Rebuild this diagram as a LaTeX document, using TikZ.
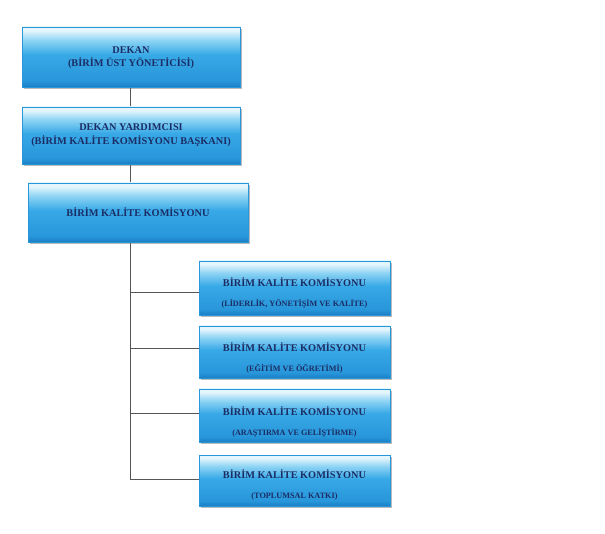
\documentclass[tikz,border=0pt]{standalone}
\usepackage{fontspec}
\setmainfont{Liberation Serif}
\usetikzlibrary{shadows}
\definecolor{bbot}{HTML}{1A7EC4}
\definecolor{bmid2}{HTML}{2896DA}
\definecolor{bmid}{HTML}{38A9E7}
\definecolor{blight}{HTML}{8ED4F4}
\definecolor{btop}{HTML}{E4F5FC}
\definecolor{txtc}{HTML}{1B2D64}
\definecolor{linec}{HTML}{555555}
\newcommand\subsmallfont{\fontsize{8.2}{9}\selectfont}
\pgfdeclareverticalshading{gloss}{100bp}{color(0bp)=(bbot); color(25bp)=(bbot); color(30bp)=(bmid2); color(52bp)=(bmid); color(64bp)=(blight); color(72bp)=(btop); color(75bp)=(btop); color(100bp)=(btop)}
\tikzset{
  box/.style={rectangle, shading=gloss, draw=bmid2, line width=0.4pt,
    drop shadow={shadow xshift=1.5pt, shadow yshift=-2pt, opacity=0.45, fill=black!60},
    inner sep=0pt},
  ttl/.style={text=txtc, font=\bfseries\fontsize{10.3}{13.5}\selectfont, align=center},
  sub/.style={text=txtc, font=\bfseries\fontsize{10.3}{20}\selectfont, align=center},
  conn/.style={draw=linec, line width=0.8pt}
}
\begin{document}
\begin{tikzpicture}[x=1pt,y=-1pt]
\useasboundingbox (0,0) rectangle (605,534);
% connector junctions
\coordinate (j4) at (130,292);
\coordinate (j5) at (130,348);
\coordinate (j6) at (130,413);
\coordinate (j7) at (130,479);
\coordinate (top) at (130,87);
% connectors
\draw[conn] (top) -- (j7);
\coordinate (b4w) at (199,292);
\coordinate (b5w) at (199,348);
\coordinate (b6w) at (199,413);
\coordinate (b7w) at (199,479);
\draw[conn] (j4) -- (b4w);
\draw[conn] (j5) -- (b5w);
\draw[conn] (j6) -- (b6w);
\draw[conn] (j7) -- (b7w);
% boxes
\node[box, minimum width=218pt, minimum height=60pt] (b1) at (131,57) {};
\node[ttl] (t1) at (131,57.5) {DEKAN\\(BİRİM ÜST YÖNETİCİSİ)};
\node[box, minimum width=218pt, minimum height=57pt] (b2) at (131,135.5) {};
\node[ttl] (t2) at (131,135) {DEKAN YARDIMCISI\\(BİRİM KALİTE KOMİSYONU BAŞKANI)};
\node[box, minimum width=220pt, minimum height=59pt] (b3) at (138,212.5) {};
\node[ttl] (t3) at (138,212.5) {BİRİM KALİTE KOMİSYONU};
\node[box, minimum width=191pt, minimum height=54pt] (b4) at (294.5,288) {};
\node[sub] (t4) at (294.5,293) {BİRİM KALİTE KOMİSYONU\\{\subsmallfont (LİDERLİK, YÖNETİŞİM VE KALİTE)}};
\node[box, minimum width=191pt, minimum height=52pt] (b5) at (294.5,352) {};
\node[sub] (t5) at (294.5,357.5) {BİRİM KALİTE KOMİSYONU\\{\subsmallfont (EĞİTİM VE ÖĞRETİMİ)}};
\node[box, minimum width=191pt, minimum height=53pt] (b6) at (294.5,415.5) {};
\node[sub] (t6) at (294.5,421.5) {BİRİM KALİTE KOMİSYONU\\{\subsmallfont (ARAŞTIRMA VE GELİŞTİRME)}};
\node[box, minimum width=191pt, minimum height=51pt] (b7) at (294.5,480.5) {};
\node[sub] (t7) at (294.5,485) {BİRİM KALİTE KOMİSYONU\\{\subsmallfont (TOPLUMSAL KATKI)}};
\end{tikzpicture}
\end{document}
